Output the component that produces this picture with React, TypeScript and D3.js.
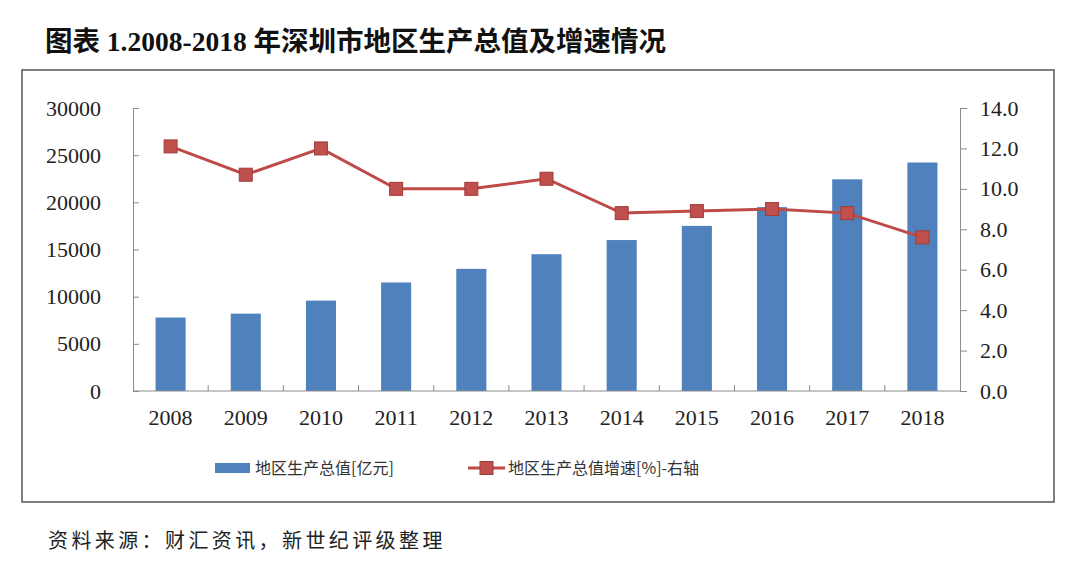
import React, { useEffect, useRef } from 'react';
import * as d3 from 'd3';

// Data
const years = ['2008', '2009', '2010', '2011', '2012', '2013', '2014', '2015', '2016', '2017', '2018'];
const gdpValues = [7787, 8201, 9581, 11502, 12950, 14500, 16002, 17503, 19493, 22438, 24222];
const growthValues = [12.1, 10.7, 12.0, 10.0, 10.0, 10.5, 8.8, 8.9, 9.0, 8.8, 7.6];
const leftTicks = [0, 5000, 10000, 15000, 20000, 25000, 30000];
const rightTicks = [0, 2, 4, 6, 8, 10, 12, 14];

const title = '图表 1.2008-2018 年深圳市地区生产总值及增速情况';
const sourceNote = '资料来源：财汇资讯，新世纪评级整理';
const barLegend = '地区生产总值[亿元]';
const lineLegend = '地区生产总值增速[%]-右轴';

const App: React.FC = () => {
  const ref = useRef<SVGSVGElement>(null);

  useEffect(() => {
    if (!ref.current) return;
    document.body.style.margin = '0';
    const svg = d3.select(ref.current);
    svg.selectAll('*').remove();

    const W = 1080;
    const H = 562;
    const plot = { left: 133, right: 960, top: 108, bottom: 391 };
    const serif = '"Liberation Serif", "Times New Roman", serif';
    const cjk = '"Noto Sans CJK SC", "Noto Sans", sans-serif';
    const axisColor = '#8c8c8c';

    svg.append('rect').attr('width', W).attr('height', H).attr('fill', '#fff');

    // Title
    svg.append('text')
      .attr('x', 45)
      .attr('y', 51)
      .attr('font-family', `"Liberation Serif", "Noto Sans CJK SC", serif`)
      .attr('font-weight', 'bold')
      .attr('font-size', 27.5)
      .attr('fill', '#111')
      .text(title);

    // Frame
    svg.append('rect')
      .attr('x', 22)
      .attr('y', 70)
      .attr('width', 1032)
      .attr('height', 432)
      .attr('fill', 'none')
      .attr('stroke', '#555')
      .attr('stroke-width', 1.5);

    // Scales
    const x = d3.scaleBand<string>()
      .domain(years)
      .range([plot.left, plot.right])
      .paddingInner(0.6)
      .paddingOuter(0.3);

    const yLeft = d3.scaleLinear().domain([0, 30000]).range([plot.bottom, plot.top]);
    const yRight = d3.scaleLinear().domain([0, 14]).range([plot.bottom, plot.top]);

    // Bars
    svg.append('g')
      .selectAll('rect')
      .data(gdpValues)
      .enter()
      .append('rect')
      .attr('x', (_, i) => x(years[i])!)
      .attr('y', d => yLeft(d))
      .attr('width', x.bandwidth())
      .attr('height', d => plot.bottom - yLeft(d))
      .attr('fill', '#4F81BD');

    // Left axis (ticks inward)
    const leftAxis = svg.append('g')
      .attr('transform', `translate(${plot.left},0)`)
      .call(d3.axisLeft(yLeft).tickValues(leftTicks).tickSize(-6).tickPadding(32).tickFormat(d3.format('d')));
    leftAxis.select('.domain').attr('stroke', axisColor);
    leftAxis.selectAll('.tick line').attr('stroke', axisColor);
    leftAxis.selectAll('.tick text')
      .attr('font-family', serif)
      .attr('font-size', 22)
      .attr('fill', '#222');

    // Right axis (ticks outward)
    const rightAxis = svg.append('g')
      .attr('transform', `translate(${plot.right},0)`)
      .call(d3.axisRight(yRight).tickValues(rightTicks).tickSize(7).tickPadding(13).tickFormat(d3.format('.1f')));
    rightAxis.select('.domain').attr('stroke', axisColor);
    rightAxis.selectAll('.tick line').attr('stroke', axisColor);
    rightAxis.selectAll('.tick text')
      .attr('font-family', serif)
      .attr('font-size', 22)
      .attr('fill', '#222');

    // X axis: baseline, boundary ticks pointing up, year labels
    const step = x.step();
    const bottomAxis = svg.append('g');
    bottomAxis.append('line')
      .attr('x1', plot.left)
      .attr('x2', plot.right)
      .attr('y1', plot.bottom)
      .attr('y2', plot.bottom)
      .attr('stroke', axisColor);
    bottomAxis.selectAll('line.tick')
      .data(years.slice(1))
      .enter()
      .append('line')
      .attr('class', 'tick')
      .attr('x1', d => x(d)! - (step - x.bandwidth()) / 2)
      .attr('x2', d => x(d)! - (step - x.bandwidth()) / 2)
      .attr('y1', plot.bottom)
      .attr('y2', plot.bottom - 6)
      .attr('stroke', axisColor);
    bottomAxis.selectAll('text')
      .data(years)
      .enter()
      .append('text')
      .attr('x', d => x(d)! + x.bandwidth() / 2)
      .attr('y', 425)
      .attr('text-anchor', 'middle')
      .attr('font-family', serif)
      .attr('font-size', 22)
      .attr('fill', '#222')
      .text(d => d);

    // Growth line
    const line = d3.line<number>()
      .x((_, i) => x(years[i])! + x.bandwidth() / 2)
      .y(d => yRight(d));

    svg.append('path')
      .datum(growthValues)
      .attr('d', line)
      .attr('fill', 'none')
      .attr('stroke', '#BE4B48')
      .attr('stroke-width', 3);

    const ms = 13;
    svg.append('g')
      .selectAll('rect')
      .data(growthValues)
      .enter()
      .append('rect')
      .attr('x', (_, i) => x(years[i])! + x.bandwidth() / 2 - ms / 2)
      .attr('y', d => yRight(d) - ms / 2)
      .attr('width', ms)
      .attr('height', ms)
      .attr('fill', '#C0504D')
      .attr('stroke', '#A33B38')
      .attr('stroke-width', 1);

    // Legend
    const ly = 468;
    svg.append('rect')
      .attr('x', 215)
      .attr('y', ly - 5)
      .attr('width', 35)
      .attr('height', 10)
      .attr('fill', '#4F81BD');
    svg.append('text')
      .attr('x', 255)
      .attr('y', ly + 6)
      .attr('font-family', cjk)
      .attr('font-size', 16)
      .attr('fill', '#333')
      .text(barLegend);

    svg.append('line')
      .attr('x1', 468)
      .attr('x2', 505)
      .attr('y1', ly)
      .attr('y2', ly)
      .attr('stroke', '#BE4B48')
      .attr('stroke-width', 3);
    svg.append('rect')
      .attr('x', 486.5 - ms / 2)
      .attr('y', ly - ms / 2)
      .attr('width', ms)
      .attr('height', ms)
      .attr('fill', '#C0504D')
      .attr('stroke', '#A33B38');
    svg.append('text')
      .attr('x', 508)
      .attr('y', ly + 6)
      .attr('font-family', cjk)
      .attr('font-size', 16)
      .attr('fill', '#333')
      .text(lineLegend);

    // Source note
    svg.append('text')
      .attr('x', 48)
      .attr('y', 548)
      .attr('font-family', `"Noto Sans CJK SC", serif`)
      .attr('font-size', 20)
      .attr('letter-spacing', 3.4)
      .attr('fill', '#222')
      .text(sourceNote);
  }, []);

  return (
    <svg
      ref={ref}
      width={1080}
      height={562}
      style={{ position: 'absolute', left: 0, top: 0, display: 'block' }}
    />
  );
};

export default App;
